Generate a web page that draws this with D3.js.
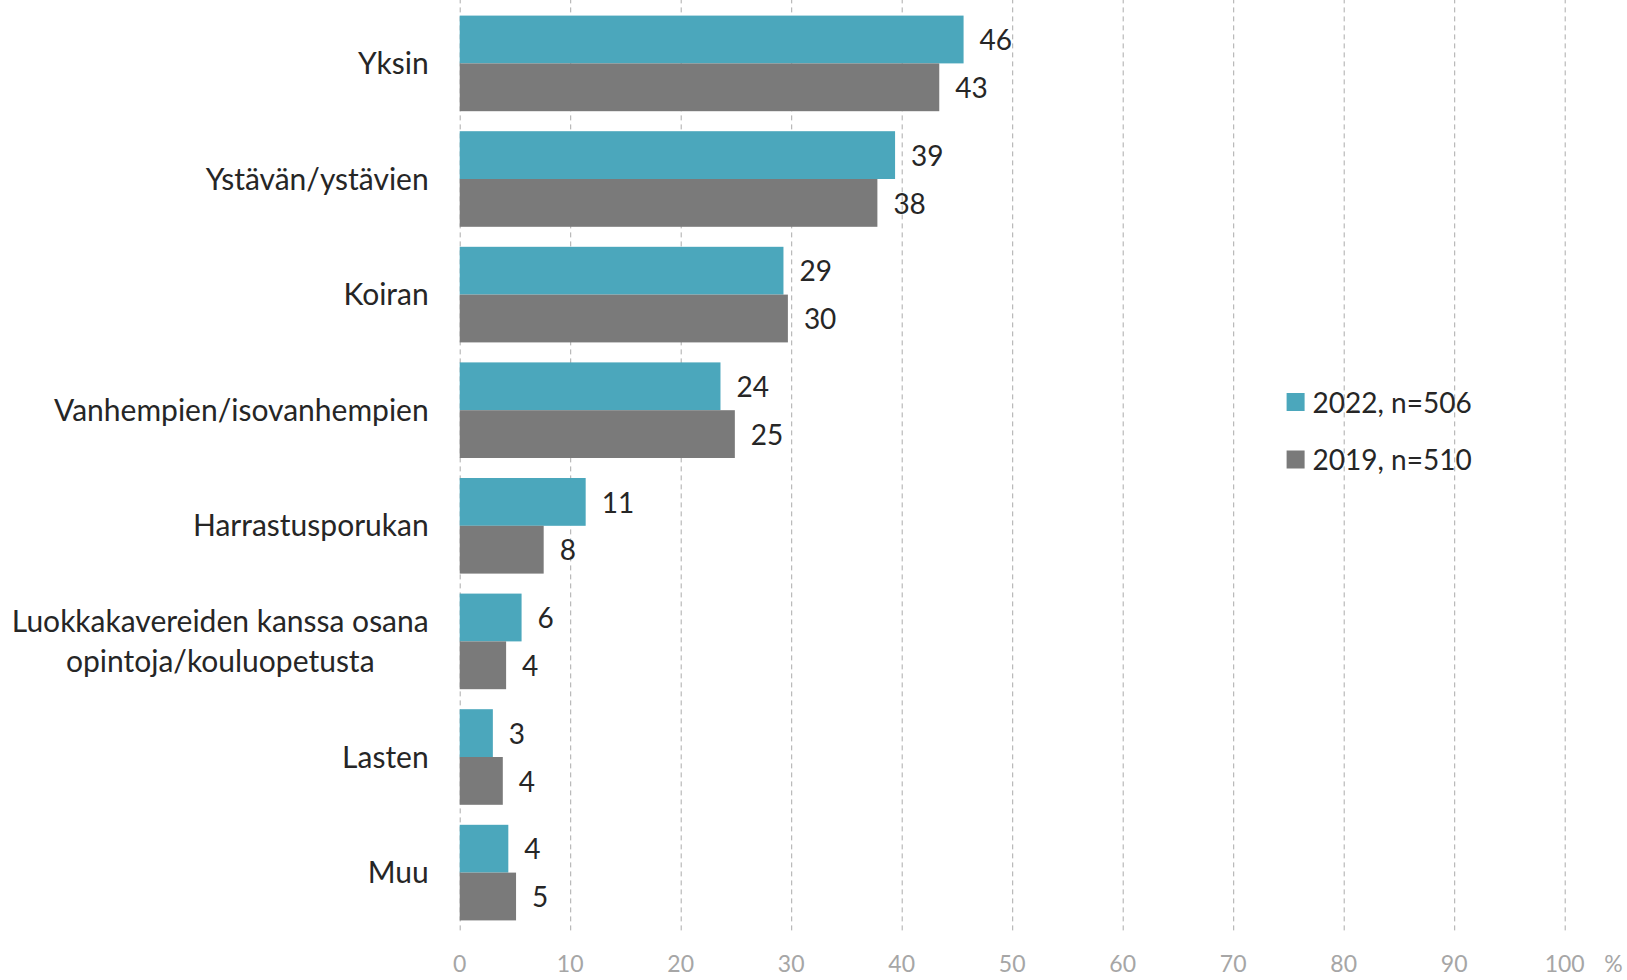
<!DOCTYPE html>
<html>
<head>
<meta charset="utf-8">
<script src="https://cdn.jsdelivr.net/npm/d3@7"></script>
<style>
  html, body { margin: 0; padding: 0; background: #fff; }
  svg { display: block; font-family: Lato, "Open Sans", sans-serif; }
</style>
</head>
<body>
<div id="chart"></div>
<script>
// categories (top to bottom), label lines
var categories = [
  ["Yksin"],
  ["Ystävän/ystävien"],
  ["Koiran"],
  ["Vanhempien/isovanhempien"],
  ["Harrastusporukan"],
  ["Luokkakavereiden kanssa osana", "opintoja/kouluopetusta"],
  ["Lasten"],
  ["Muu"]
];
var seriesNames = ["2022, n=506", "2019, n=510"];
var values2022 = [45.6, 39.4, 29.3, 23.6, 11.4, 5.6, 3.0, 4.4];
var values2019 = [43.4, 37.8, 29.7, 24.9, 7.6, 4.2, 3.9, 5.1];
var xTicks = [0, 10, 20, 30, 40, 50, 60, 70, 80, 90, 100];
var colors = ["#4BA7BC", "#7A7A7A"];

var w = 1627, h = 980
  , marginLeft = 459.7, plotRight = 1564.7
  , plotTop = 5.6, plotBottom = 930.4;

var svg = d3.select("#chart")
  .append("svg")
  .attr("width", w)
  .attr("height", h);

var xScale = d3.scaleLinear().domain([0, 100]).range([marginLeft, plotRight]);
var yScale = d3.scaleBand()
  .domain(d3.range(categories.length))
  .range([plotTop, plotBottom])
  .paddingInner(0.173)
  .paddingOuter(0.0865);
var subScale = d3.scaleBand().domain([0, 1]).range([0, yScale.bandwidth()]);

// gridlines (dashed)
var grid = svg.append("g").attr("class", "gridline")
  .attr("transform", "translate(0," + plotBottom + ")")
  .call(d3.axisBottom(xScale).tickValues(xTicks).tickSize(-(plotBottom)).tickFormat(""));
grid.select(".domain").remove();
grid.selectAll("line")
  .style("stroke", "#ABABAB")
  .style("stroke-width", 1)
  .style("stroke-dasharray", "5,4");

// bars
var rows = categories.map(function(c, i) {
  return { idx: i, vals: [values2022[i], values2019[i]] };
});

var group = svg.selectAll(".grp")
  .data(rows)
  .enter().append("g")
  .attr("class", "grp")
  .attr("transform", function(d) { return "translate(0," + yScale(d.idx) + ")"; });

group.selectAll("rect")
  .data(function(d) { return d.vals; })
  .enter().append("rect")
  .attr("x", xScale(0))
  .attr("y", function(d, i) { return subScale(i); })
  .attr("width", function(d) { return xScale(d) - xScale(0); })
  .attr("height", subScale.bandwidth())
  .style("fill", function(d, i) { return colors[i]; });

group.selectAll("text.val")
  .data(function(d) { return d.vals; })
  .enter().append("text")
  .attr("class", "val")
  .attr("x", function(d) { return xScale(d) + 16; })
  .attr("y", function(d, i) { return subScale(i) + subScale.bandwidth() / 2 + 1; })
  .attr("dy", "0.35em")
  .style("font-size", "28px")
  .style("fill", "#262626")
  .text(function(d) { return d3.format(".0f")(d); });

// category labels
var catLabel = svg.selectAll(".cat")
  .data(rows)
  .enter().append("text")
  .attr("class", "cat")
  .style("font-size", "30px")
  .style("fill", "#262626");

catLabel.each(function(d) {
  var lines = categories[d.idx];
  var cy = yScale(d.idx) + yScale.bandwidth() / 2;
  var lh = 39.4;
  var t = d3.select(this);
  var anchorX = marginLeft - 31;
  if (lines.length == 1) {
    t.append("tspan")
      .attr("x", anchorX)
      .attr("y", cy)
      .attr("dy", "0.35em")
      .attr("text-anchor", "end")
      .text(lines[0]);
  } else {
    t.attr("text-anchor", "middle");
    lines.forEach(function(l, k) {
      t.append("tspan")
        .attr("y", cy + (k - (lines.length - 1) / 2) * lh)
        .attr("dy", "0.35em")
        .text(l);
    });
    // center the block under the widest line, right aligned at anchorX
    var widest = 0;
    t.selectAll("tspan").each(function() {
      widest = Math.max(widest, this.getComputedTextLength());
    });
    t.selectAll("tspan").attr("x", anchorX - widest / 2);
  }
});

// x tick labels
svg.selectAll(".xtick")
  .data(xTicks)
  .enter().append("text")
  .attr("class", "xtick")
  .attr("x", function(d) { return xScale(d); })
  .attr("y", 964)
  .attr("dy", "0.35em")
  .attr("text-anchor", "middle")
  .style("font-size", "23px")
  .style("fill", "#A6A6A6")
  .text(function(d) { return d; });

svg.append("text")
  .attr("x", 1613.5)
  .attr("y", 964)
  .attr("dy", "0.35em")
  .attr("text-anchor", "middle")
  .style("font-size", "23px")
  .style("fill", "#A6A6A6")
  .text("%");

// legend
var legend = svg.selectAll(".legend")
  .data(seriesNames)
  .enter().append("g")
  .attr("class", "legend")
  .attr("transform", function(d, i) { return "translate(1286.6," + (402 + i * 57.5) + ")"; });

legend.append("rect")
  .attr("x", 0)
  .attr("y", -9)
  .attr("width", 18)
  .attr("height", 18)
  .style("fill", function(d, i) { return colors[i]; });

legend.append("text")
  .attr("x", 26)
  .attr("y", 1)
  .attr("dy", "0.35em")
  .style("font-size", "28px")
  .style("fill", "#262626")
  .text(function(d) { return d; });
</script>
</body>
</html>
